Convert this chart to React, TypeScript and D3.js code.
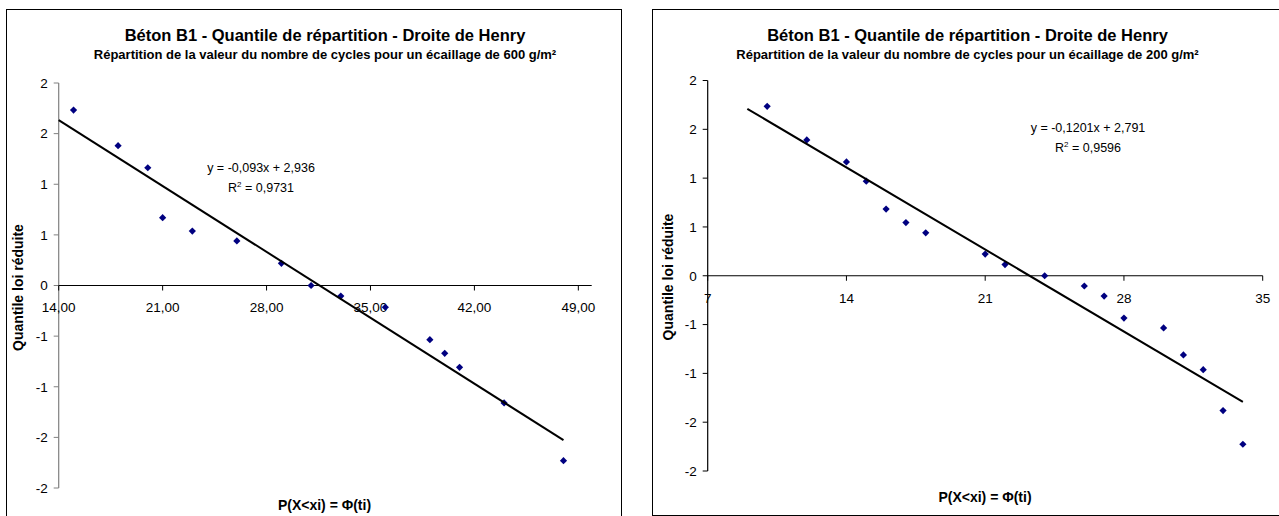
import React from "react";
import * as d3 from "d3";

// ---------- DATA ----------
const title = "Béton B1 - Quantile de répartition - Droite de Henry";
const subtitle600 = "Répartition de la valeur du nombre de cycles pour un écaillage de 600 g/m²";
const subtitle200 = "Répartition de la valeur du nombre de cycles pour un écaillage de 200 g/m²";
const yAxisTitle = "Quantile loi réduite";
const xAxisTitle = "P(X<xi) = Φ(ti)";

const cycles600 = [15, 18, 20, 21, 23, 26, 29, 31, 33, 36, 39, 40, 41, 44, 48];
const quantile600 = [1.733, 1.381, 1.163, 0.67, 0.538, 0.44, 0.219, 0.0, -0.104, -0.215, -0.535, -0.67, -0.808, -1.16, -1.73];
const slope600 = -0.093;
const intercept600 = 2.936;
const eq600 = "y = -0,093x + 2,936";
const r2600 = "0,9731";
const xTicks600 = [14, 21, 28, 35, 42, 49];

const cycles200 = [10, 12, 14, 15, 16, 17, 18, 21, 22, 24, 26, 27, 28, 30, 31, 32, 33, 34];
const quantile200 = [1.736, 1.391, 1.166, 0.969, 0.683, 0.545, 0.44, 0.222, 0.115, 0.0, -0.105, -0.208, -0.433, -0.535, -0.811, -0.962, -1.381, -1.726];
const slope200 = -0.1201;
const intercept200 = 2.791;
const eq200 = "y = -0,1201x + 2,791";
const r2200 = "0,9596";
const xTicks200 = [7, 14, 21, 28, 35];

const yTicks = [-2, -1.5, -1, -0.5, 0, 0.5, 1, 1.5, 2];

const FONT = "Arial, 'Liberation Sans', Helvetica, sans-serif";

const fmtY = (v: number) => String(Math.sign(v) * Math.round(Math.abs(v)));
const fmtX2 = (v: number) => v.toFixed(2).replace(".", ",");
const fmtX0 = (v: number) => String(v);

type PanelProps = {
  frame: [number, number, number, number];
  xDomain: [number, number];
  xRange: [number, number];
  yRange: [number, number];
  xs: number[];
  ys: number[];
  slope: number;
  intercept: number;
  eq: string;
  r2: string;
  xTicks: number[];
  xFmt: (v: number) => string;
  subtitle: string;
  titleX: number;
  yTitleX: number;
  yTitleY: number;
  xTitleX: number;
  xTitleY: number;
  eqX: number;
  eqY: number;
  yAxisColor: string;
  xLabelDy: number;
};

function Panel(p: PanelProps) {
  const x = d3.scaleLinear().domain(p.xDomain).range(p.xRange);
  const y = d3.scaleLinear().domain([-2, 2]).range(p.yRange);
  const x0 = x(p.xDomain[0]);
  const y0 = y(0);
  const marker = d3.symbol().type(d3.symbolSquare).size(26)() as string;
  const tStart = d3.min(p.xs)! - 1;
  const tEnd = d3.max(p.xs)!;
  const trend = d3.line<number>().x((v) => x(v)).y((v) => y(p.slope * v + p.intercept))([tStart, tEnd]) as string;
  return (
    <g fontFamily={FONT}>
      <rect x={p.frame[0] + 0.5} y={p.frame[1] + 0.5} width={p.frame[2]} height={p.frame[3]} fill="#fff" stroke="#000" strokeWidth={1} />
      <text x={p.titleX} y={40.5} textAnchor="middle" fontWeight="bold" fontSize={16.5}>{title}</text>
      <text x={p.titleX} y={59.3} textAnchor="middle" fontWeight="bold" fontSize={13}>{p.subtitle}</text>
      {/* y axis */}
      <line x1={x0} x2={x0} y1={y(2)} y2={y(-2)} stroke={p.yAxisColor} strokeWidth={1.2} />
      {yTicks.map((t) => (
        <g key={"y" + t}>
          <line x1={x0 - 5} x2={x0} y1={y(t)} y2={y(t)} stroke={p.yAxisColor} strokeWidth={1} />
          <text x={x0 - 11} y={y(t) + 4.8} textAnchor="end" fontSize={13.5}>{fmtY(t)}</text>
        </g>
      ))}
      {/* x axis */}
      <line x1={x0} x2={p.xRange[1]} y1={y0} y2={y0} stroke="#000" strokeWidth={1.2} />
      {p.xTicks.map((t) => (
        <g key={"x" + t}>
          <line x1={x(t)} x2={x(t)} y1={y0} y2={y0 + 5} stroke="#000" strokeWidth={1} />
          <text x={x(t)} y={y0 + p.xLabelDy} textAnchor="middle" fontSize={13.5}>{p.xFmt(t)}</text>
        </g>
      ))}
      {/* axis titles */}
      <text transform={`translate(${p.yTitleX},${p.yTitleY}) rotate(-90)`} textAnchor="middle" fontWeight="bold" fontSize={14} dy="0.35em">{yAxisTitle}</text>
      <text x={p.xTitleX} y={p.xTitleY} textAnchor="middle" fontWeight="bold" fontSize={14}>{xAxisTitle}</text>
      {/* points */}
      {p.xs.map((v, i) => (
        <path key={"p" + i} d={marker} transform={`translate(${x(v)},${y(p.ys[i])}) rotate(45)`} fill="#000080" />
      ))}
      {/* trendline */}
      <path d={trend} stroke="#000" strokeWidth={2} fill="none" />
      {/* equation */}
      <text x={p.eqX} y={p.eqY} textAnchor="middle" fontSize={12.5}>{p.eq}</text>
      <text x={p.eqX} y={p.eqY + 20} textAnchor="middle" fontSize={12.5}>
        R<tspan dy={-5} fontSize={8}>2</tspan><tspan dy={5}> = {p.r2}</tspan>
      </text>
    </g>
  );
}

export default function App() {
  return (
    <svg width={1279} height={516} style={{ position: "absolute", left: 0, top: 0, background: "#fff" }}>
      <Panel
        frame={[6, 9, 615, 520]}
        xDomain={[14, 49.9]}
        xRange={[58.7, 591.7]}
        yRange={[488, 83]}
        xs={cycles600}
        ys={quantile600}
        slope={slope600}
        intercept={intercept600}
        eq={eq600}
        r2={r2600}
        xTicks={xTicks600}
        xFmt={fmtX2}
        subtitle={subtitle600}
        titleX={325}
        yTitleX={18.5}
        yTitleY={287.5}
        xTitleX={324.5}
        xTitleY={510}
        eqX={261}
        eqY={172}
        yAxisColor="#808080"
        xLabelDy={26}
      />
      <Panel
        frame={[652, 9, 640, 506]}
        xDomain={[7, 35]}
        xRange={[707.7, 1262.7]}
        yRange={[471, 80.5]}
        xs={cycles200}
        ys={quantile200}
        slope={slope200}
        intercept={intercept200}
        eq={eq200}
        r2={r2200}
        xTicks={xTicks200}
        xFmt={fmtX0}
        subtitle={subtitle200}
        titleX={967.5}
        yTitleX={668.3}
        yTitleY={277}
        xTitleX={985}
        xTitleY={501.5}
        eqX={1088}
        eqY={132}
        yAxisColor="#000"
        xLabelDy={27}
      />
    </svg>
  );
}
